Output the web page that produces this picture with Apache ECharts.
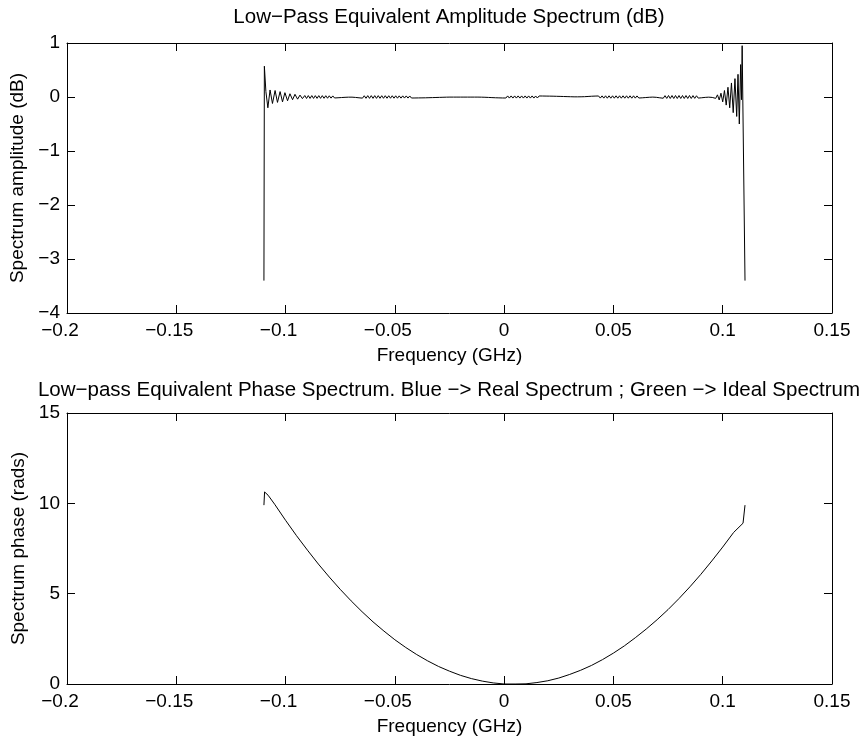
<!DOCTYPE html>
<html>
<head>
<meta charset="utf-8">
<title>Low-Pass Equivalent Spectrum</title>
<script src="https://cdn.jsdelivr.net/npm/echarts@6/dist/echarts.min.js"></script>
<style>
  html, body { margin: 0; padding: 0; background: #fff; }
  #chart { width: 862px; height: 740px; }
</style>
</head>
<body>
<div id="chart"></div>
<script>
// tick labels
const freqTicks = [-0.2, -0.15, -0.1, -0.05, 0, 0.05, 0.1, 0.15]
const freqTickLabels = ['−0.2', '−0.15', '−0.1', '−0.05', '0', '0.05', '0.1', '0.15']
const ampTicks = [-4, -3, -2, -1, 0, 1]
const ampTickLabels = ['−4', '−3', '−2', '−1', '0', '1']
const phaseTicks = [0, 5, 10, 15]
const phaseTickLabels = ['0', '5', '10', '15']

// amplitude spectrum (dB): band edges + ripple
const ampFreq = [
  -0.1099, -0.1097, -0.1090, -0.1081, -0.1071, -0.1060, -0.1048, -0.1037, -0.1025, -0.1014,
  -0.1003, -0.0991, -0.0980, -0.0968, -0.0957, -0.0945, -0.0934, -0.0923,
  -0.0912, -0.0904, -0.0896, -0.0888, -0.0880, -0.0872, -0.0864, -0.0856, -0.0848, -0.0840,
  -0.0832, -0.0824, -0.0816, -0.0808, -0.0800, -0.0792, -0.0784, -0.0776, -0.0768, -0.0760,
  -0.0752, -0.0744, -0.0736, -0.0728, -0.0720, -0.0712, -0.0704, -0.0696, -0.0688, -0.0680,
  -0.0672, -0.0664, -0.0656, -0.0648, -0.0640, -0.0632, -0.0624, -0.0616, -0.0608, -0.0600,
  -0.0592, -0.0584, -0.0576, -0.0568, -0.0560, -0.0552, -0.0544, -0.0536, -0.0528, -0.0520,
  -0.0512, -0.0504, -0.0496, -0.0488, -0.0480, -0.0472, -0.0464, -0.0456, -0.0448, -0.0440,
  -0.0432, -0.0424, -0.0416, -0.0408, -0.0400, -0.0392, -0.0384, -0.0376, -0.0368, -0.0360,
  -0.0352, -0.0344, -0.0336, -0.0328, -0.0320, -0.0312, -0.0304, -0.0296, -0.0288, -0.0280,
  -0.0272, -0.0264, -0.0256, -0.0248, -0.0240, -0.0232, -0.0224, -0.0216, -0.0208, -0.0200,
  -0.0192, -0.0184, -0.0176, -0.0168, -0.0160, -0.0152, -0.0144, -0.0136, -0.0128, -0.0120,
  -0.0112, -0.0104, -0.0096, -0.0088, -0.0080, -0.0072, -0.0064, -0.0056, -0.0048, -0.0040,
  -0.0032, -0.0024, -0.0016, -0.0008, 0.0000, 0.0008, 0.0016, 0.0024, 0.0032, 0.0040,
  0.0048, 0.0056, 0.0064, 0.0072, 0.0080, 0.0088, 0.0096, 0.0104, 0.0112, 0.0120,
  0.0128, 0.0136, 0.0144, 0.0152, 0.0160, 0.0168, 0.0176, 0.0184, 0.0192, 0.0200,
  0.0208, 0.0216, 0.0224, 0.0232, 0.0240, 0.0248, 0.0256, 0.0264, 0.0272, 0.0280,
  0.0288, 0.0296, 0.0304, 0.0312, 0.0320, 0.0328, 0.0336, 0.0344, 0.0352, 0.0360,
  0.0368, 0.0376, 0.0384, 0.0392, 0.0400, 0.0408, 0.0416, 0.0424, 0.0432, 0.0440,
  0.0448, 0.0456, 0.0464, 0.0472, 0.0480, 0.0488, 0.0496, 0.0504, 0.0512, 0.0520,
  0.0528, 0.0536, 0.0544, 0.0552, 0.0560, 0.0568, 0.0576, 0.0584, 0.0592, 0.0600,
  0.0608, 0.0616, 0.0624, 0.0632, 0.0640, 0.0648, 0.0656, 0.0664, 0.0672, 0.0680,
  0.0688, 0.0696, 0.0704, 0.0712, 0.0720, 0.0728, 0.0736, 0.0744, 0.0752, 0.0760,
  0.0768, 0.0776, 0.0784, 0.0792, 0.0800, 0.0808, 0.0816, 0.0824, 0.0832, 0.0840,
  0.0848, 0.0856, 0.0864, 0.0872, 0.0880, 0.0888, 0.0896, 0.0904, 0.0912, 0.0920,
  0.0928, 0.0936, 0.0944, 0.0952,
  0.0960, 0.0968, 0.0976, 0.0984, 0.0992, 0.1000, 0.1008, 0.1016, 0.1024, 0.1032,
  0.1040, 0.1048, 0.1056, 0.1064, 0.1070, 0.1076, 0.1082, 0.1086, 0.1089, 0.1102
]
const ampDb = [
  -3.40, 0.57, 0.10, -0.20, 0.13, -0.12, 0.12, -0.10, 0.10, -0.09,
  0.08, -0.07, 0.06, -0.05, 0.05, -0.04, 0.035, -0.03,
  0.027, -0.027, 0.026, -0.026, 0.026, -0.026, 0.025, -0.025, 0.025, -0.025,
  0.025, -0.024, 0.024, -0.023, 0.022, -0.021, 0.020, -0.018, 0.016, -0.014,
  0.012, -0.010, 0.008, -0.006, 0.004, -0.003, 0.002, -0.003, 0.005, -0.008,
  0.011, -0.015, 0.018, -0.021, 0.023, -0.024, 0.025, -0.025, 0.025, -0.025,
  0.025, -0.025, 0.025, -0.024, 0.024, -0.024, 0.024, -0.023, 0.023, -0.023,
  0.023, -0.022, 0.022, -0.022, 0.021, -0.021, 0.021, -0.020, 0.020, -0.020,
  0.019, -0.019, 0.018, -0.018, 0.017, -0.017, 0.016, -0.016, 0.015, -0.015,
  0.014, -0.013, 0.012, -0.011, 0.010, -0.009, 0.008, -0.007, 0.006, -0.005,
  0.004, -0.003, 0.003, -0.002, 0.002, -0.002, 0.002, -0.002, 0.002, -0.002,
  0.002, -0.002, 0.002, -0.002, 0.002, -0.002, 0.002, -0.002, 0.002, -0.002,
  0.002, -0.003, 0.004, -0.005, 0.006, -0.008, 0.009, -0.011, 0.012, -0.014,
  0.015, -0.016, 0.017, -0.018, 0.019, -0.019, 0.020, -0.020, 0.020, -0.020,
  0.020, -0.020, 0.020, -0.020, 0.020, -0.020, 0.020, -0.020, 0.020, -0.020,
  0.020, -0.020, 0.019, -0.019, 0.019, -0.018, 0.018, -0.018, 0.017, -0.017,
  0.016, -0.016, 0.015, -0.014, 0.013, -0.012, 0.011, -0.010, 0.009, -0.008,
  0.007, -0.006, 0.005, -0.004, 0.003, -0.003, 0.003, -0.003, 0.004, -0.005,
  0.006, -0.008, 0.010, -0.012, 0.014, -0.016, 0.017, -0.018, 0.019, -0.020,
  0.021, -0.021, 0.022, -0.022, 0.022, -0.022, 0.022, -0.022, 0.022, -0.022,
  0.022, -0.022, 0.022, -0.022, 0.022, -0.022, 0.022, -0.022, 0.022, -0.021,
  0.020, -0.019, 0.017, -0.015, 0.013, -0.010, 0.008, -0.005, 0.003, -0.002,
  0.003, -0.006, 0.010, -0.015, 0.019, -0.023, 0.025, -0.026, 0.027, -0.027,
  0.027, -0.027, 0.027, -0.027, 0.027, -0.027, 0.027, -0.027, 0.027, -0.027,
  0.027, -0.027, 0.026, -0.025, 0.023, -0.020, 0.017, -0.014, 0.010, -0.007,
  0.005, -0.003, 0.004, -0.008,
  0.015, -0.025, 0.040, -0.055, 0.070, -0.090, 0.120, -0.150, 0.180, -0.200,
  0.260, -0.290, 0.340, -0.360, 0.420, -0.500, 0.600, -0.050, 0.950, -3.40
]

// phase spectrum (rads)
const phaseFreq = [
  -0.1099, -0.1096, -0.108, -0.105, -0.100, -0.095, -0.090, -0.085, -0.080, -0.075,
  -0.070, -0.065, -0.060, -0.055, -0.050, -0.045, -0.040, -0.035, -0.030, -0.025,
  -0.020, -0.015, -0.010, -0.005, 0, 0.005, 0.010, 0.015, 0.020, 0.025,
  0.030, 0.035, 0.040, 0.045, 0.050, 0.055, 0.060, 0.065, 0.070, 0.075,
  0.080, 0.085, 0.090, 0.095, 0.100, 0.105, 0.1093, 0.1102
]
const phaseRad = [
  9.90, 10.63, 10.45, 9.95, 9.06, 8.21, 7.41, 6.64, 5.92, 5.24,
  4.60, 4.00, 3.44, 2.93, 2.45, 2.02, 1.63, 1.28, 0.97, 0.71,
  0.48, 0.30, 0.16, 0.06, 0.00, 0.00, 0.01, 0.08, 0.18, 0.33,
  0.53, 0.76, 1.03, 1.35, 1.71, 2.11, 2.56, 3.04, 3.56, 4.12,
  4.73, 5.38, 6.07, 6.81, 7.58, 8.39, 8.90, 9.90
]

const FONT = 'Liberation Sans'
const chart = echarts.init(document.getElementById('chart'))

function pickLabel(ticks, labels) {
  return (v) => {
    const i = ticks.findIndex((t) => Math.abs(t - v) < 1e-9)
    return i < 0 ? '' : labels[i]
  }
}
// matlab centres negative x labels a bit to the left
function freqLabel(v) {
  const s = pickLabel(freqTicks, freqTickLabels)(v)
  return v < 0 ? '{neg|' + s + '}' : '{pos|' + s + '}'
}

function xAxes(gridIndex, withName) {
  const base = {
    gridIndex: gridIndex,
    type: 'value',
    min: -0.2,
    max: 0.15,
    interval: 0.05,
    splitLine: { show: false },
    axisLine: { onZero: false, lineStyle: { color: '#000', width: 1 } },
    axisTick: { inside: true, length: 8, lineStyle: { color: '#000' } },
  }
  return [
    Object.assign({}, base, {
      position: 'bottom',
      name: withName,
      nameLocation: 'middle',
      nameGap: 33,
      nameTextStyle: { fontFamily: FONT, fontSize: 19, color: '#000' },
      axisLabel: {
        margin: 8,
        formatter: freqLabel,
        rich: {
          neg: { fontFamily: FONT, fontSize: 19, color: '#000', padding: [0, 14, 0, 0] },
          pos: { fontFamily: FONT, fontSize: 19, color: '#000' },
        },
      },
    }),
    Object.assign({}, base, { position: 'top', axisLabel: { show: false } }),
  ]
}

function yAxes(gridIndex, min, max, interval, ticks, labels, name) {
  const base = {
    gridIndex: gridIndex,
    type: 'value',
    min: min,
    max: max,
    interval: interval,
    splitLine: { show: false },
    axisLine: { show: true, onZero: false, lineStyle: { color: '#000', width: 1 } },
    axisTick: { show: true, inside: true, length: 8, lineStyle: { color: '#000' } },
  }
  return [
    Object.assign({}, base, {
      position: 'left',
      name: name,
      nameLocation: 'middle',
      nameGap: 34,
      nameTextStyle: { fontFamily: FONT, fontSize: 19, color: '#000' },
      axisLabel: {
        margin: 7,
        fontFamily: FONT,
        fontSize: 19,
        color: '#000',
        formatter: pickLabel(ticks, labels),
      },
    }),
    Object.assign({}, base, { position: 'right', axisLabel: { show: false } }),
  ]
}

const titleStyle = { fontFamily: FONT, fontSize: 20.5, fontWeight: 'normal', color: '#000' }

chart.setOption({
  animation: false,
  backgroundColor: '#fff',
  title: [
    {
      text: 'Low−Pass Equivalent Amplitude Spectrum (dB)',
      left: 449,
      top: 7,
      padding: 0,
      textAlign: 'center',
      textStyle: titleStyle,
    },
    {
      text: 'Low−pass Equivalent Phase Spectrum. Blue −> Real Spectrum ; Green −> Ideal Spectrum',
      left: 449,
      top: 380,
      padding: 0,
      textAlign: 'center',
      textStyle: titleStyle,
    },
  ],
  grid: [
    { left: 67, top: 43, width: 765, height: 270 },
    { left: 67, top: 413, width: 765, height: 271 },
  ],
  xAxis: [].concat(xAxes(0, 'Frequency (GHz)'), xAxes(1, 'Frequency (GHz)')),
  yAxis: [].concat(
    yAxes(0, -4, 1, 1, ampTicks, ampTickLabels, 'Spectrum amplitude (dB)'),
    yAxes(1, 0, 15, 5, phaseTicks, phaseTickLabels, 'Spectrum phase (rads)')
  ),
  series: [
    {
      name: 'amplitude',
      type: 'line',
      xAxisIndex: 0,
      yAxisIndex: 0,
      showSymbol: false,
      lineStyle: { color: '#000', width: 1 },
      data: ampFreq.map((f, i) => [f, ampDb[i]]),
    },
    {
      name: 'phase',
      type: 'line',
      xAxisIndex: 2,
      yAxisIndex: 2,
      showSymbol: false,
      lineStyle: { color: '#000', width: 1 },
      data: phaseFreq.map((f, i) => [f, phaseRad[i]]),
    },
  ],
})
</script>
</body>
</html>
